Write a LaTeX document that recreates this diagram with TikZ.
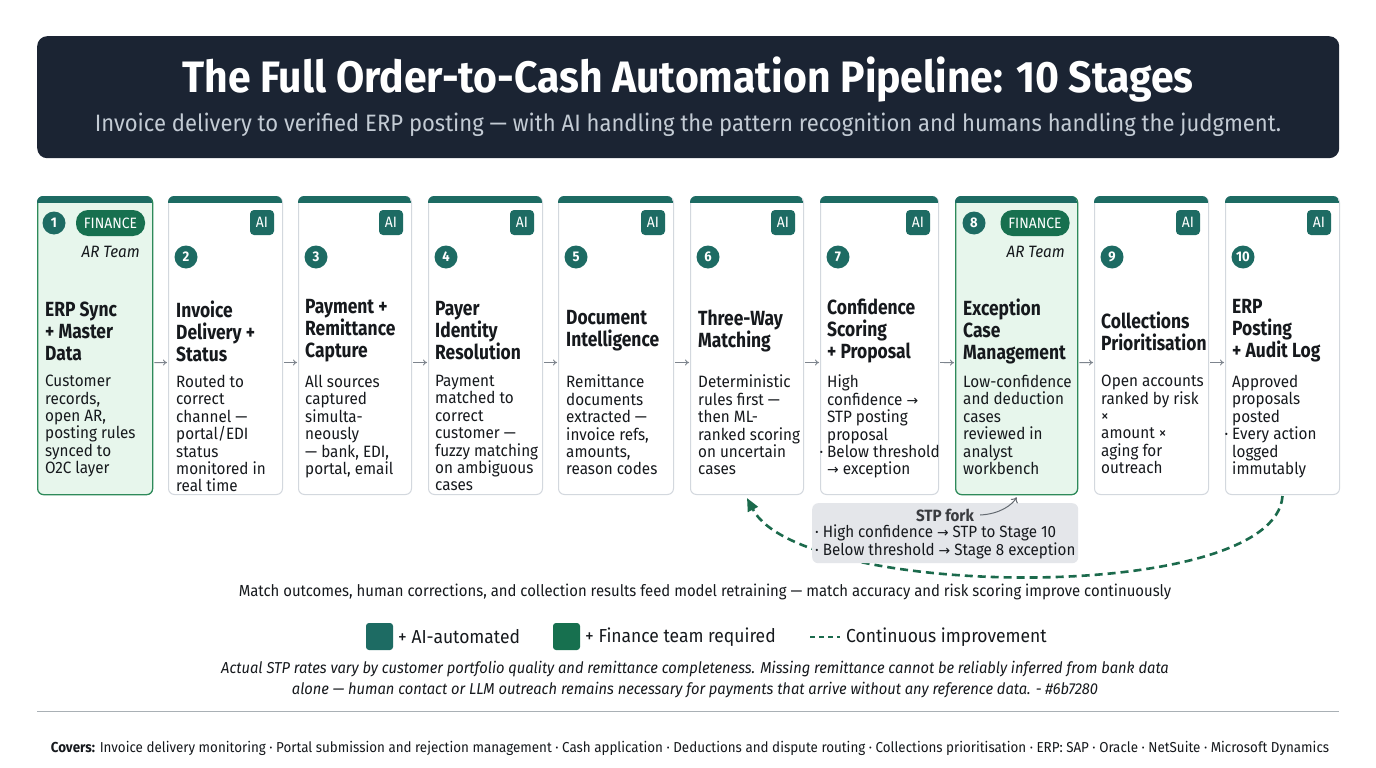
\documentclass[tikz,border=0pt]{standalone}
\usepackage{fontspec}
\setmainfont{Fira Sans}[FakeStretch=0.93]
\newfontfamily\ttlf{Fira Sans}[FakeStretch=0.85]
\newfontfamily\symf[Scale=0.85]{DejaVu Sans}
\usetikzlibrary{arrows.meta}
\definecolor{navy}{HTML}{1B2433}
\definecolor{subgray}{HTML}{C3CBD4}
\definecolor{teal}{HTML}{1D6B63}
\definecolor{fin}{HTML}{17704F}
\definecolor{finfill}{HTML}{E7F6EC}
\definecolor{finborder}{HTML}{2E8A5A}
\definecolor{cardborder}{HTML}{D3D8DE}
\definecolor{arrowgray}{HTML}{7D848D}
\definecolor{stpfill}{HTML}{E4E6EA}
\definecolor{ink}{HTML}{16191D}
\definecolor{dashgreen}{HTML}{1B6A4C}
\definecolor{rulegray}{HTML}{A9B0B5}
\newcommand{\rarr}{{\symf →}}
\newcommand{\fs}[2]{\fontsize{#1}{#2}\selectfont}
\begin{document}
\begin{tikzpicture}[x=1pt,y=-1pt,
  card/.style={anchor=north west, minimum height=298pt, inner sep=0, rounded corners=6pt, draw=cardborder, line width=1pt, fill=white},
  fincard/.style={card, fill=finfill, draw=finborder, line width=1.3pt},
  ttl/.style={anchor=west, align=left, inner sep=0, text=ink, font=\ttlf\fs{20.5}{22}\bfseries},
  dsc/.style={anchor=north west, align=left, inner sep=0, text=ink, font=\fs{16.4}{17.4}},
  num/.style={circle, fill=teal, text=white, minimum size=23pt, inner sep=0, font=\fs{14}{14}\bfseries},
  ai/.style={rounded corners=4pt, fill=teal, text=white, minimum width=24pt, minimum height=25pt, inner sep=0, font=\fs{15}{15}},
  pill/.style={rounded corners=12pt, fill=fin, text=white, minimum width=69pt, minimum height=26pt, inner sep=0, font=\fs{15}{15}},
  arteam/.style={anchor=east, inner sep=0, text=ink, font=\fs{16.4}{17}\itshape},
  flow/.style={draw=arrowgray, line width=0.9pt, -{To[length=4pt,width=6pt]}, shorten <=1pt, shorten >=1pt},
  dashline/.style={draw=dashgreen, line width=2.6pt, dash pattern=on 8pt off 5pt},
  legsq/.style={rounded corners=3pt, minimum size=27pt, inner sep=0},
  plain/.style={inner sep=0, text=ink}
]
\useasboundingbox[fill=white] (0,0) rectangle (1376,768);

% header
\node[fill=navy, rounded corners=10pt, minimum width=1302pt, minimum height=122pt, anchor=north west, inner sep=0] (hdr) at (37,36) {};
\node[inner sep=0, text=white, font=\fs{44}{48}\bfseries] (title) at (688,80) {The Full Order-to-Cash Automation Pipeline: 10 Stages};
\node[inner sep=0, text=subgray, font=\fs{23.7}{25}] (sub) at (688,125) {Invoice delivery to verified ERP posting — with AI handling the pattern recognition and humans handling the judgment.};

% cards
\foreach \i/\xa/\xb/\f in {1/37/152/1,2/168/282/0,3/298/411/0,4/428/542/0,5/558/673/0,6/690/803/0,7/820/938/0,8/955/1077/1,9/1094/1208/0,10/1225/1339/0}{
  \pgfmathsetmacro{\w}{\xb-\xa}
  \ifnum\f=1
    \node[fincard, minimum width=\w pt] (c\i) at (\xa,196) {};
  \else
    \node[card, minimum width=\w pt] (c\i) at (\xa,196) {};
  \fi
  \begin{scope}
    \clip[rounded corners=6pt] (\xa,196) rectangle (\xb,494);
    \fill[teal] (\xa,195) rectangle (\xb,203);
  \end{scope}
}

% flow arrows
\foreach \i/\j in {1/2,2/3,3/4,4/5,5/6,6/7,7/8,8/9,9/10}{
  \draw[flow] ([yshift=-17pt]c\i.east) -- ([yshift=-17pt]c\j.west);
}

% badges
\node[num] (n1) at (54,223) {1};
\node[pill] (p1) at (110.5,223) {FINANCE};
\node[arteam] (r1) at (140,252) {AR Team};
\node[num] (n8) at (974,223) {8};
\node[pill] (p8) at (1035,223) {FINANCE};
\node[arteam] (r8) at (1065,252) {AR Team};
\foreach \i/\xa/\xb in {2/168/282,3/298/411,4/428/542,5/558/673,6/690/803,7/820/938,9/1094/1208,10/1225/1339}{
  \node[num] (n\i) at (\xa+18,257) {\i};
  \node[ai] (a\i) at (\xb-20,222.5) {AI};
}

% titles
\node[ttl] (t1) at (45,331) {ERP Sync\\+ Master\\Data};
\node[ttl] (t2) at (176,331) {Invoice\\Delivery +\\Status};
\node[ttl] (t3) at (305,331) {Payment +\\Remittance\\Capture};
\node[ttl] (t4) at (435,331) {Payer\\Identity\\Resolution};
\node[ttl] (t5) at (566,331) {Document\\Intelligence};
\node[ttl] (t6) at (698,331) {Three-Way\\Matching};
\node[ttl] (t7) at (827,331) {Confidence\\Scoring\\+ Proposal};
\node[ttl] (t8) at (963,331) {Exception\\Case\\Management};
\node[ttl] (t9) at (1101,331) {Collections\\Prioritisation};
\node[ttl] (t10) at (1232,331) {ERP\\Posting\\+ Audit Log};

% descriptions
\node[dsc] (d1) at (45,375) {Customer\\records,\\open AR,\\posting rules\\synced to\\O2C layer};
\node[dsc] (d2) at (176,375) {Routed to\\correct\\channel —\\portal/EDI\\status\\monitored in\\real time};
\node[dsc] (d3) at (305,375) {All sources\\captured\\simulta-\\neously\\— bank, EDI,\\portal, email};
\node[dsc] (d4) at (435,375) {Payment\\matched to\\correct\\customer —\\fuzzy matching\\on ambiguous\\cases};
\node[dsc] (d5) at (566,375) {Remittance\\documents\\extracted —\\invoice refs,\\amounts,\\reason codes};
\node[dsc] (d6) at (698,375) {Deterministic\\rules first —\\then ML-\\ranked scoring\\on uncertain\\cases};
\node[dsc] (d7) at (827,375) {High\\confidence \rarr\\STP posting\\proposal\\\llap{· }Below threshold\\\rarr{} exception};
\node[dsc] (d8) at (963,375) {Low-confidence\\and deduction\\cases\\reviewed in\\analyst\\workbench};
\node[dsc] (d9) at (1101,375) {Open accounts\\ranked by risk\\×\\amount ×\\aging for\\outreach};
\node[dsc] (d10) at (1232,375) {Approved\\proposals\\posted\\\llap{· }Every action\\logged\\immutably};

% continuous improvement loop
\draw[dashline, -{Stealth[length=13pt,width=11pt,inset=0pt]}] ([yshift=-1pt]c10.south) .. controls (1275,605) and (800,600) .. ([yshift=-3pt]c6.south);

% STP fork
\node[fill=stpfill, rounded corners=6pt, minimum width=266pt, minimum height=60pt, inner sep=0, anchor=north west] (stp) at (812,503) {};
\node[plain, font=\fs{16.3}{16}\bfseries, text=ink!85] (stpt) at (945,515) {STP fork};
\node[plain, anchor=west, font=\fs{16.3}{16}] (stp1) at (815,533) {· High confidence \rarr{} STP to Stage 10};
\node[plain, anchor=west, font=\fs{16.3}{16}] (stp2) at (815,551) {· Below threshold \rarr{} Stage 8 exception};
\draw[draw=arrowgray!80!black, line width=1pt, -{To[length=5pt,width=8pt]}] ([xshift=6pt]stpt.east) .. controls (1000,514) and (1012,505) .. ([yshift=-2pt]c8.south);

\node[plain, font=\fs{16}{16}] (fb) at (705,592) {Match outcomes, human corrections, and collection results feed model retraining — match accuracy and risk scoring improve continuously};

% legend
\node[legsq, fill=teal] (l1) at (379.5,636.5) {};
\node[plain, anchor=west, font=\fs{18.8}{19}] (l1t) at (398,637) {+ AI-automated};
\node[legsq, fill=fin] (l2) at (566.5,636.5) {};
\node[plain, anchor=west, font=\fs{18.8}{19}] (l2t) at (585,637) {+ Finance team required};
\coordinate (l3a) at (810,637);
\coordinate (l3b) at (840,637);
\draw[dashline, line width=2.4pt, dash pattern=on 5pt off 4pt] (l3a) -- (l3b);
\node[plain, anchor=west, font=\fs{18.8}{19}] (l3t) at (846,637) {Continuous improvement};

% note
\node[plain, align=center, font=\fs{15.8}{21}\itshape] (note) at (695,680) {Actual STP rates vary by customer portfolio quality and remittance completeness. Missing remittance cannot be reliably inferred from bank data\\alone — human contact or LLM outreach remains necessary for payments that arrive without any reference data. - \#6b7280};

\coordinate (ra) at (37,711);
\coordinate (rb) at (1339,711);
\draw[rulegray, line width=1pt] (ra) -- (rb);

\node[plain, font=\fs{14.4}{15}] (foot) at (690,748) {\textbf{Covers:} Invoice delivery monitoring · Portal submission and rejection management · Cash application · Deductions and dispute routing · Collections prioritisation · ERP: SAP · Oracle · NetSuite · Microsoft Dynamics};
\end{tikzpicture}
\end{document}
